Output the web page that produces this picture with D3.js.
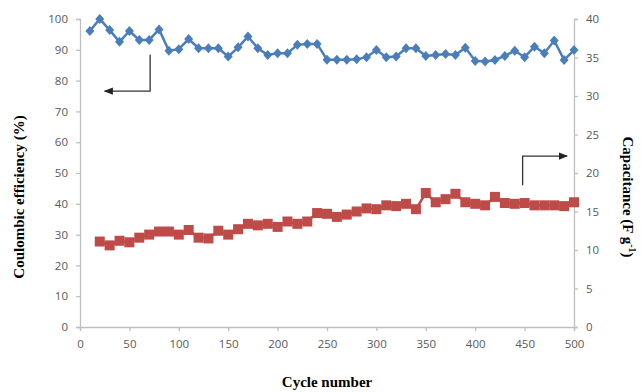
<!DOCTYPE html>
<html>
<head>
<meta charset="utf-8">
<title>coulombic efficiency</title>
<script src="https://d3js.org/d3.v7.min.js"></script>
<style>
  body { margin: 0; background: #fff; }
  .tick text { font-family: "Open Sans", "Liberation Sans", sans-serif; font-size: 11.5px; fill: #595959; }
  .title { font-family: "Liberation Serif", "DejaVu Serif", serif; font-weight: bold; font-size: 15px; fill: #000; }
</style>
</head>
<body>
<div id="chart"></div>
<script>

// coulombic efficiency (%) - left axis
var effCycles = [10,20,30,40,50,60,70,80,90,100,110,120,130,140,150,160,170,180,190,200,
  210,220,230,240,250,260,270,280,290,300,310,320,330,340,350,360,370,380,390,400,
  410,420,430,440,450,460,470,480,490,500];
var effValues = [96.1,100,96.4,92.6,96.1,93.2,93.2,96.6,89.7,90.2,93.5,90.5,90.5,90.5,87.8,90.8,94.3,90.5,88.3,88.9,
  88.9,91.6,91.9,91.9,86.8,86.8,86.8,86.9,87.6,89.9,87.6,87.8,90.5,90.5,88.0,88.3,88.6,88.3,90.7,86.4,
  86.2,86.7,88.0,89.7,87.6,91.0,88.9,93.0,86.7,89.9];

// capacitance (F/g) - right axis
var capCycles = [20,30,40,50,60,70,80,90,100,110,120,130,140,150,160,170,180,190,200,
  210,220,230,240,250,260,270,280,290,300,310,320,330,340,350,360,370,380,390,400,
  410,420,430,440,450,460,470,480,490,500];
var capValues = [11.1,10.6,11.2,11.0,11.6,12.0,12.4,12.4,12.0,12.6,11.6,11.5,12.5,12.0,12.7,13.4,13.2,13.4,13.0,
  13.7,13.4,13.7,14.8,14.7,14.3,14.6,15.0,15.4,15.3,15.8,15.7,16.0,15.3,17.4,16.2,16.6,17.3,16.2,16.0,
  15.8,16.9,16.1,16.0,16.1,15.8,15.8,15.8,15.7,16.2];

var xTicks = d3.range(0, 501, 50);
var leftTicks = d3.range(0, 101, 10);
var rightTicks = d3.range(0, 41, 5);

var width = 641, height = 392;
var margin = {top: 19, right: 67, bottom: 65, left: 80};

var svg = d3.select("#chart").append("svg")
  .attr("width", width)
  .attr("height", height);

var x = d3.scaleLinear().domain([0, 500]).range([margin.left, width - margin.right]);
var yL = d3.scaleLinear().domain([0, 100]).range([height - margin.bottom, margin.top]);
var yR = d3.scaleLinear().domain([0, 40]).range([height - margin.bottom, margin.top]);

var axisColor = "#bfbfbf";

// axes
var gx = svg.append("g")
  .attr("transform", "translate(0," + yL(0) + ")")
  .call(d3.axisBottom(x).tickValues(xTicks).tickSize(4).tickPadding(9));
var gl = svg.append("g")
  .attr("transform", "translate(" + x(0) + ",0)")
  .call(d3.axisLeft(yL).tickValues(leftTicks).tickSize(4).tickPadding(8));
var gr = svg.append("g")
  .attr("transform", "translate(" + x(500) + ",0)")
  .call(d3.axisRight(yR).tickValues(rightTicks).tickSize(4).tickPadding(8));

[gx, gl, gr].forEach(function(g) {
  g.select(".domain").attr("stroke", axisColor).attr("stroke-width", 1.3);
  g.selectAll(".tick line").attr("stroke", axisColor).attr("stroke-width", 1.3);
});

// efficiency series
var effData = effCycles.map(function(c, i) { return {c: c, v: effValues[i]}; });
var capData = capCycles.map(function(c, i) { return {c: c, v: capValues[i]}; });

var blue = "#4a7ebb", red = "#be4b48";

svg.append("path")
  .datum(effData)
  .attr("fill", "none")
  .attr("stroke", blue)
  .attr("stroke-width", 2.5)
  .attr("d", d3.line().x(function(d) { return x(d.c); }).y(function(d) { return yL(d.v); }));

svg.selectAll(".dia")
  .data(effData)
  .enter().append("path")
  .attr("class", "dia")
  .attr("fill", blue)
  .attr("transform", function(d) { return "translate(" + x(d.c) + "," + yL(d.v) + ")"; })
  .attr("d", "M0,-5L4.5,0L0,5L-4.5,0Z");

svg.append("path")
  .datum(capData)
  .attr("fill", "none")
  .attr("stroke", red)
  .attr("stroke-width", 2.5)
  .attr("d", d3.line().x(function(d) { return x(d.c); }).y(function(d) { return yR(d.v); }));

svg.selectAll(".sq")
  .data(capData)
  .enter().append("rect")
  .attr("class", "sq")
  .attr("fill", red)
  .attr("x", function(d) { return x(d.c) - 5; })
  .attr("y", function(d) { return yR(d.v) - 5; })
  .attr("width", 10)
  .attr("height", 10);

// arrows
var defs = svg.append("defs");
defs.append("marker")
  .attr("id", "head")
  .attr("viewBox", "0 0 10 10")
  .attr("refX", 9).attr("refY", 5)
  .attr("markerWidth", 7).attr("markerHeight", 7)
  .attr("orient", "auto")
  .append("path").attr("d", "M0,1L10,5L0,9Z").attr("fill", "#222");

svg.append("path")
  .attr("d", "M" + x(71) + "," + yL(88.4) + "V" + yL(76.6) + "H" + x(25))
  .attr("fill", "none").attr("stroke", "#333").attr("stroke-width", 1.3)
  .attr("marker-end", "url(#head)");

svg.append("path")
  .attr("d", "M" + x(448) + "," + yR(18.4) + "V" + yR(22.2) + "H" + x(493))
  .attr("fill", "none").attr("stroke", "#333").attr("stroke-width", 1.3)
  .attr("marker-end", "url(#head)");

// titles
svg.append("text").attr("class", "title")
  .attr("x", (x(0) + x(500)) / 2).attr("y", 387)
  .attr("text-anchor", "middle")
  .text("Cycle number");

svg.append("text").attr("class", "title")
  .attr("transform", "translate(24," + 197 + ") rotate(-90)")
  .attr("text-anchor", "middle")
  .text("Coulombic efficiency (%)");

var rt = svg.append("text").attr("class", "title")
  .attr("transform", "translate(623," + 197 + ") rotate(90)")
  .attr("text-anchor", "middle");
rt.append("tspan").text("Capacitance (F g");
rt.append("tspan").attr("dy", -6).style("font-size", "10px").text("-1");
rt.append("tspan").attr("dy", 6).text(")");

</script>
</body>
</html>
